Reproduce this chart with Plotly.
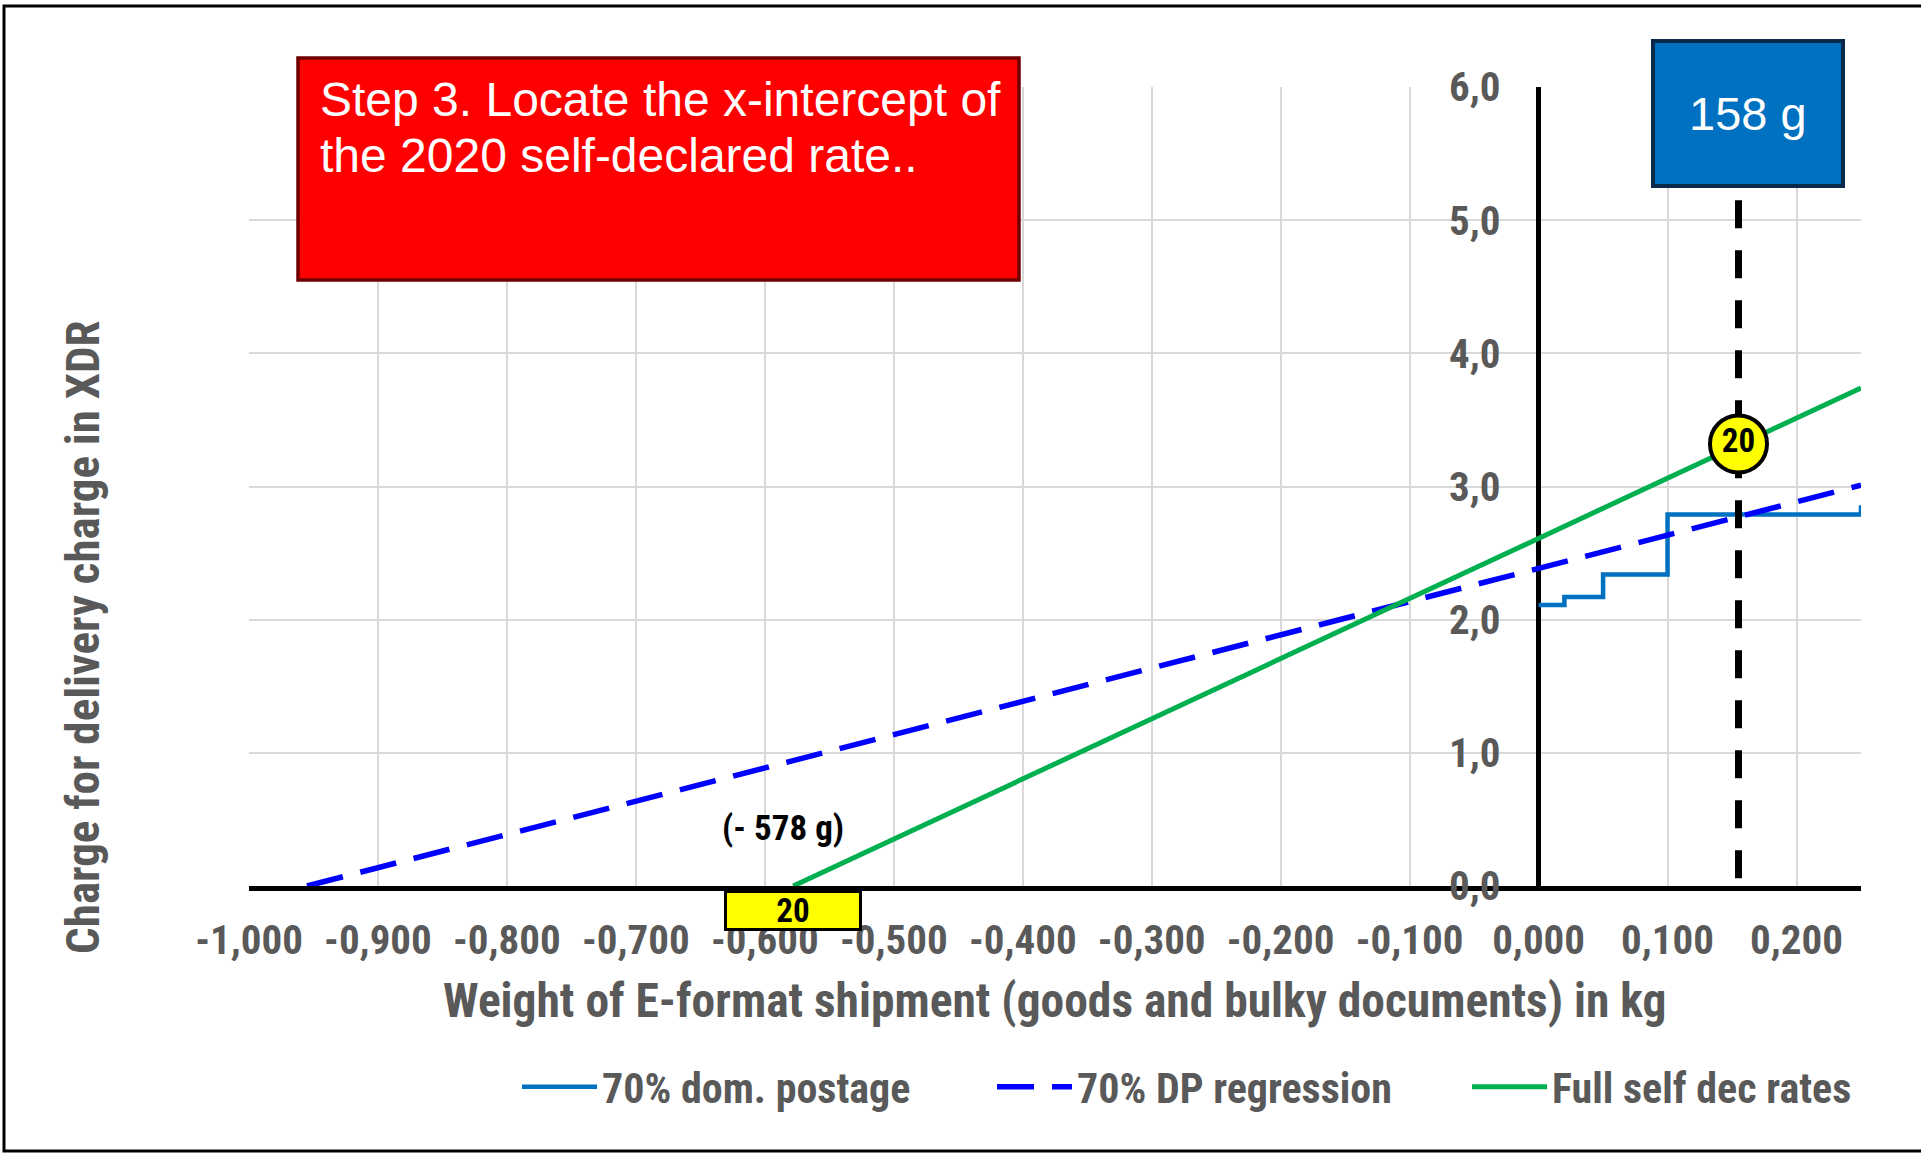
import plotly.graph_objects as go

# ------------------------------------------------------------------ data
x_range = [-1.0, 0.25]
y_range = [0.0, 6.0]
x_tick_vals = [-1.0, -0.9, -0.8, -0.7, -0.6, -0.5, -0.4, -0.3, -0.2, -0.1, 0.0, 0.1, 0.2]
x_tick_text = ["-1,000", "-0,900", "-0,800", "-0,700", "-0,600", "-0,500", "-0,400",
               "-0,300", "-0,200", "-0,100", "0,000", "0,100", "0,200"]
y_tick_vals = [0, 1, 2, 3, 4, 5, 6]
y_tick_text = ["0,0", "1,0", "2,0", "3,0", "4,0", "5,0", "6,0"]

series_names = ["70% dom. postage", "70% DP regression", "Full self dec rates"]

postage_x = [0.0, 0.02, 0.05, 0.10, 0.25]
postage_y = [2.11, 2.17, 2.34, 2.79, 2.86]

regression_x = [-0.955, 0.25]
regression_y = [0.0, 3.01]

selfdec_x = [-0.578, 0.25]
selfdec_y = [0.0, 3.74]

weight_line_x = [0.155, 0.155]
weight_line_y = [5.15, 0.0]
point_x = [0.155]
point_y = [3.32]
point_label = ["20"]

intercept_x = -0.578
intercept_label = "(- 578 g)"
intercept_box_label = "20"
weight_label = "158 g"
step_lines = ["Step 3. Locate the x-intercept of", "the 2020 self-declared rate.."]
x_title = "Weight of E-format shipment (goods and bulky documents) in kg"
y_title = "Charge for delivery charge in XDR"

# ------------------------------------------------------------------ layout geometry (pixels)
FIG_W, FIG_H = 1921, 1154
PL, PR, PT, PB = 249, 1861, 87, 886


def px(xp):
    return (xp - PL) / (PR - PL)


def py(yp):
    return (PB - yp) / (PB - PT)


NARROW = "Liberation Sans Narrow, Arial Narrow, Roboto Condensed, sans-serif"
REG = "Liberation Sans, Arial, sans-serif"
GREY = "#595959"

fig = go.Figure()

fig.add_trace(go.Scatter(x=postage_x, y=postage_y, mode="lines", name=series_names[0],
                         line=dict(color="#0070C0", width=4.5, shape="hv")))
fig.add_trace(go.Scatter(x=regression_x, y=regression_y, mode="lines", name=series_names[1],
                         line=dict(color="#0000FF", width=5.5, dash="37px,18px")))
fig.add_trace(go.Scatter(x=selfdec_x, y=selfdec_y, mode="lines", name=series_names[2],
                         line=dict(color="#00B050", width=5)))
fig.add_trace(go.Scatter(x=weight_line_x, y=weight_line_y, mode="lines", showlegend=False,
                         line=dict(color="black", width=7, dash="28px,22px")))
fig.add_trace(go.Scatter(x=point_x, y=point_y, mode="markers+text", showlegend=False,
                         text=point_label, textposition="middle center",
                         textfont=dict(family=NARROW, size=33, color="black", weight="bold"),
                         marker=dict(size=57, color="#FFFF00", line=dict(color="black", width=4))))

shapes = [
    # outer frame
    dict(type="rect", xref="paper", yref="paper", x0=px(4), x1=px(1924), y0=py(1151), y1=py(6),
         line=dict(color="black", width=3), fillcolor="rgba(0,0,0,0)", layer="above"),
    # red step box
    dict(type="rect", xref="paper", yref="paper", x0=px(298), x1=px(1019), y0=py(280), y1=py(58),
         line=dict(color="#700000", width=3.5), fillcolor="#FF0000", layer="above"),
    # blue weight box
    dict(type="rect", xref="paper", yref="paper", x0=px(1653), x1=px(1843), y0=py(186), y1=py(41),
         line=dict(color="#0B2A4A", width=4), fillcolor="#0070C0", layer="above"),
]

annotations = [
    dict(text=step_lines[0], xref="paper", yref="paper", x=px(318), y=py(100), xanchor="left",
         yanchor="middle", showarrow=False, font=dict(family=REG, size=48, color="white")),
    dict(text=step_lines[1], xref="paper", yref="paper", x=px(318), y=py(155), xanchor="left",
         yanchor="middle", showarrow=False, font=dict(family=REG, size=48, color="white")),
    dict(text=weight_label, xref="paper", yref="paper", x=px(1748), y=py(114), xanchor="center",
         yanchor="middle", showarrow=False, font=dict(family=REG, size=47, color="white")),
    dict(text=intercept_label, xref="paper", yref="paper", x=px(783), y=py(828), xanchor="center",
         yanchor="middle", showarrow=False,
         font=dict(family=NARROW, size=35, color="black", weight="bold")),
    dict(text=intercept_box_label, xref="x", yref="y", x=intercept_x, y=0, xanchor="center",
         yanchor="top", yshift=-4, showarrow=False, width=132, height=35, borderpad=0,
         bgcolor="#FFFF00", bordercolor="black", borderwidth=3,
         font=dict(family=NARROW, size=33, color="black", weight="bold")),
    dict(text=x_title, xref="paper", yref="paper", x=px(1054), y=py(1001), xanchor="center",
         yanchor="middle", showarrow=False,
         font=dict(family=NARROW, size=47.5, color=GREY, weight="bold")),
    dict(text=y_title, xref="paper", yref="paper", x=px(82), y=py(637), xanchor="center",
         yanchor="middle", showarrow=False, textangle=-90,
         font=dict(family=NARROW, size=47, color=GREY, weight="bold")),
]

fig.update_layout(
    width=FIG_W, height=FIG_H,
    margin=dict(l=PL, r=FIG_W - PR, t=PT, b=FIG_H - PB, pad=0, autoexpand=False),
    paper_bgcolor="white", plot_bgcolor="white",
    separators=",.",
    shapes=shapes, annotations=annotations,
    legend=dict(orientation="h", x=px(517), xanchor="left", y=py(1087), yanchor="middle",
                font=dict(family=NARROW, size=42, color=GREY, weight="bold"),
                itemwidth=75, entrywidth=385, entrywidthmode="pixels",
                bgcolor="rgba(0,0,0,0)"),
    xaxis=dict(range=x_range, tickvals=x_tick_vals, ticktext=x_tick_text, showgrid=True,
               gridcolor="#D9D9D9", gridwidth=1.5, zeroline=True, zerolinecolor="black",
               zerolinewidth=4.5, showline=True, linecolor="black", linewidth=5, ticks="",
               ticklabelstandoff=14,
               tickfont=dict(family=NARROW, size=41, color=GREY, weight="bold")),
    yaxis=dict(range=y_range, tickvals=y_tick_vals, ticktext=y_tick_text, anchor="free",
               position=0.8, showgrid=True, gridcolor="#D9D9D9", gridwidth=1.5, zeroline=False,
               showline=False, ticks="", ticklabelstandoff=38,
               tickfont=dict(family=NARROW, size=41, color=GREY, weight="bold")),
)

fig.write_html("out.html", config={"displayModeBar": False},
               post_script="document.body.style.margin='0';document.body.style.overflow='hidden';")
